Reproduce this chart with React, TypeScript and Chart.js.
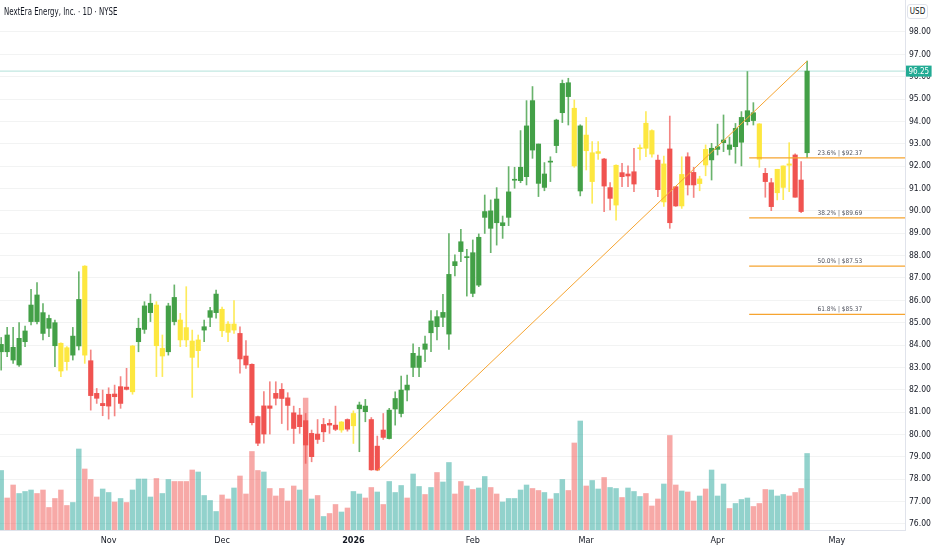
import React, { useEffect, useRef } from "react";
import { Chart, registerables } from "chart.js";

Chart.register(...registerables);

const TITLE = "NextEra Energy, Inc. · 1D · NYSE";
const CURRENCY = "USD";

// Daily OHLC (USD), one entry per trading session, oldest first
const OPEN = [
  83.70, 83.70, 83.33, 83.11, 84.15, 85.05, 85.05, 84.52, 84.75, 83.97,
  84.08, 83.88, 83.55, 83.96, 87.53, 83.30, 81.84, 81.39, 81.80, 81.81,
  82.14, 82.12, 81.91, 84.15, 84.70, 85.45, 85.79, 83.85, 83.70, 85.05,
  85.12, 84.78, 84.18, 84.23, 84.67, 85.24, 85.45, 85.60, 84.94, 84.94,
  84.52, 83.51, 83.14, 80.80, 81.28, 81.28, 81.84, 82.02, 81.64, 80.97,
  80.87, 80.62, 80.05, 80.02, 80.45, 80.50, 80.42, 80.56, 80.67, 80.39,
  81.15, 81.02, 80.67, 79.48, 80.20, 79.82, 81.14, 80.94, 81.99, 83.00,
  83.00, 83.81, 84.55, 84.82, 85.24, 84.49, 87.55, 88.18, 87.91, 86.31,
  86.68, 89.71, 89.22, 89.47, 89.34, 89.71, 91.37, 91.35, 91.53, 92.72,
  91.23, 91.05, 92.18, 92.92, 94.39, 95.11, 94.59, 90.89, 93.39, 92.60,
  92.65, 92.32, 91.04, 92.04, 91.71, 91.65, 91.75, 92.82, 92.80, 93.59,
  92.27, 92.10, 92.77, 91.08, 90.22, 92.42, 91.72, 91.43, 92.05, 92.28,
  92.75, 93.05, 92.75, 92.87, 93.07, 93.99, 94.04, 93.89, 91.68, 91.26,
  90.81, 91.05, 92.04, 92.50, 91.38, 92.60,
];
const HIGH = [
  84.34, 84.79, 84.79, 85.00, 84.85, 86.49, 86.79, 85.86, 85.34, 85.12,
  84.10, 83.93, 84.79, 87.28, 87.55, 83.78, 82.06, 81.99, 82.09, 82.21,
  82.59, 82.96, 83.98, 85.20, 85.94, 86.28, 85.94, 84.45, 85.87, 86.69,
  85.42, 86.61, 84.67, 84.45, 85.12, 85.69, 86.46, 85.70, 85.05, 85.99,
  84.82, 84.20, 83.16, 80.82, 81.92, 82.36, 82.36, 82.28, 81.87, 81.27,
  81.17, 80.94, 80.20, 80.67, 80.72, 80.67, 81.27, 80.58, 80.70, 81.06,
  81.45, 81.57, 80.76, 79.93, 80.94, 81.17, 81.91, 82.61, 82.66, 84.05,
  83.90, 84.40, 85.54, 85.54, 86.27, 88.99, 88.03, 89.17, 88.28, 88.70,
  88.97, 90.71, 90.49, 91.04, 89.77, 91.98, 91.95, 93.59, 94.93, 95.56,
  92.99, 92.16, 92.42, 94.10, 95.85, 95.93, 94.96, 93.85, 94.18, 93.10,
  93.10, 92.35, 91.26, 92.06, 92.13, 92.01, 92.80, 92.95, 94.44, 93.62,
  92.50, 92.45, 94.24, 91.10, 92.42, 92.60, 91.95, 91.55, 92.95, 93.02,
  93.88, 94.29, 93.30, 93.91, 94.44, 96.23, 94.84, 93.90, 91.90, 91.45,
  91.86, 92.01, 93.05, 92.55, 92.20, 96.70,
];
const LOW = [
  82.88, 83.48, 83.18, 83.05, 83.93, 84.90, 84.94, 84.23, 84.37, 83.03,
  82.59, 82.88, 83.33, 83.78, 83.18, 81.09, 81.39, 80.84, 80.69, 80.83,
  81.17, 81.99, 81.80, 83.70, 84.52, 85.05, 82.59, 82.59, 83.55, 84.90,
  83.93, 83.93, 81.66, 83.00, 84.15, 84.82, 85.20, 84.38, 84.15, 84.52,
  82.74, 82.96, 80.43, 79.50, 79.61, 80.02, 81.32, 80.49, 80.20, 79.60,
  80.05, 78.71, 78.78, 79.60, 79.68, 80.05, 80.17, 80.10, 80.15, 79.60,
  79.23, 80.57, 78.40, 78.38, 79.78, 79.80, 80.42, 80.79, 81.50, 82.59,
  82.59, 83.26, 83.70, 84.23, 84.82, 83.81, 87.09, 87.73, 86.19, 86.16,
  86.61, 88.99, 88.13, 88.47, 88.77, 89.34, 91.01, 91.26, 91.16, 92.35,
  90.64, 90.90, 91.31, 92.60, 93.95, 93.84, 91.95, 90.67, 91.83, 90.34,
  92.30, 89.97, 90.04, 89.59, 91.08, 91.08, 90.86, 92.28, 92.42, 92.40,
  90.64, 90.20, 89.22, 90.20, 90.11, 90.71, 90.60, 90.90, 91.57, 91.38,
  92.50, 92.65, 92.50, 92.13, 92.01, 93.84, 93.84, 91.95, 90.61, 90.01,
  90.49, 90.50, 90.86, 90.61, 89.92, 92.38,
];
const CLOSE = [
  84.03, 84.45, 83.90, 84.30, 84.63, 85.79, 86.24, 85.45, 85.19, 85.00,
  82.84, 83.26, 84.40, 86.04, 83.55, 81.74, 81.62, 81.29, 81.27, 81.69,
  81.39, 82.02, 83.96, 84.75, 85.75, 85.87, 83.97, 83.51, 85.75, 86.13,
  84.23, 84.23, 83.45, 83.75, 84.82, 85.54, 86.28, 84.64, 84.57, 84.67,
  83.38, 83.11, 80.53, 79.61, 80.02, 81.17, 81.62, 81.61, 81.30, 80.27,
  80.35, 79.53, 79.01, 79.78, 80.12, 80.42, 80.23, 80.20, 80.24, 80.94,
  81.32, 81.27, 78.42, 78.41, 79.87, 81.09, 81.61, 81.99, 82.21, 83.63,
  83.51, 84.05, 85.08, 85.27, 85.46, 87.16, 87.73, 88.62, 87.93, 88.13,
  88.82, 89.97, 90.00, 90.53, 89.47, 90.85, 91.39, 91.95, 93.80, 94.93,
  92.99, 91.65, 92.22, 94.06, 95.70, 95.73, 92.01, 93.80, 92.69, 91.31,
  92.57, 91.11, 90.56, 90.26, 91.53, 91.56, 91.20, 92.78, 93.92, 92.54,
  90.95, 90.40, 89.47, 90.22, 91.63, 91.16, 91.16, 91.22, 92.75, 92.80,
  92.87, 93.17, 92.95, 93.69, 94.18, 94.48, 94.39, 92.31, 91.31, 90.19,
  91.86, 92.01, 92.10, 90.61, 89.97, 96.25,
];
// Candle colour as painted on the chart: g = green, r = red, y = yellow
const CANDLE_TONE = [
  "g","g","g","g","g","g","g","g","g","g",
  "y","y","g","g","y","r","r","r","r","r",
  "r","r","y","g","g","g","y","y","g","g",
  "y","y","y","y","g","g","g","y","y","y",
  "r","r","r","r","r","r","r","r","r","r",
  "r","r","r","r","r","r","r","y","r","y",
  "g","g","r","r","r","g","g","g","g","g",
  "g","g","g","g","g","g","g","g","g","g",
  "g","g","g","g","g","g","g","g","g","g",
  "g","g","g","g","g","g","y","g","y","y",
  "y","r","r","y","r","r","r","y","y","y",
  "r","y","r","r","y","r","r","y","y","g",
  "g","g","g","g","g","g","g","y","r","r",
  "y","y","y","r","r","g",
];
// Volume, millions of shares
const VOLUME = [
  11.9, 6.4, 9.0, 7.3, 7.7, 8.0, 7.3, 8.0, 4.5, 6.3,
  8.0, 4.9, 5.5, 16.2, 12.2, 10.1, 6.6, 8.2, 7.5, 5.6,
  6.3, 5.5, 8.0, 10.2, 10.2, 6.6, 10.3, 7.3, 10.1, 9.7,
  9.7, 9.7, 12.0, 11.6, 6.9, 5.9, 3.7, 7.0, 6.2, 8.4,
  10.8, 7.2, 15.7, 11.9, 11.6, 8.3, 6.8, 8.3, 5.8, 8.8,
  8.0, 26.4, 6.2, 6.9, 2.7, 3.3, 5.1, 3.6, 4.4, 7.7,
  7.2, 6.4, 8.5, 7.6, 5.1, 9.7, 7.5, 8.9, 6.4, 11.2,
  8.7, 7.1, 8.5, 11.5, 9.6, 13.5, 7.2, 9.7, 8.8, 8.1,
  8.4, 10.7, 8.5, 7.2, 5.6, 6.3, 6.3, 8.0, 9.0, 8.3,
  7.9, 7.5, 6.2, 7.3, 10.1, 7.9, 17.4, 21.8, 8.8, 9.9,
  8.2, 10.5, 8.5, 8.3, 6.5, 8.4, 7.7, 6.7, 7.3, 4.8,
  6.2, 9.2, 18.9, 9.0, 7.8, 7.6, 5.8, 6.8, 8.2, 12.0,
  6.8, 9.2, 4.3, 5.3, 6.1, 6.4, 4.7, 5.3, 8.1, 8.0,
  6.8, 7.1, 6.8, 7.5, 8.3, 15.3,
];
// Volume bar colour: u = teal, d = pink
const VOLUME_DIR = [
  "u","d","d","u","u","u","d","d","d","d",
  "d","d","u","u","d","d","d","u","u","d",
  "u","d","u","u","u","u","d","u","u","d",
  "d","d","d","u","u","u","u","d","d","u",
  "d","d","d","d","u","d","d","d","d","d",
  "u","d","u","d","u","d","d","u","d","u",
  "u","d","d","u","d","u","u","u","d","u",
  "u","d","u","d","u","u","d","d","u","d",
  "u","u","d","d","u","u","u","u","u","d",
  "d","u","d","u","u","d","d","u","d","u",
  "u","d","u","u","d","u","u","u","d","d",
  "d","u","d","d","u","d","d","u","d","u",
  "u","u","d","u","u","u","d","d","d","u",
  "u","u","d","d","d","u",
];

const MONTH_TICK_INDEX = [18, 37, 59, 79, 98, 120, 140];
const MONTH_TICK_LABELS = ["Nov", "Dec", "2026", "Feb", "Mar", "Apr", "May"];
const PRICE_TICKS = [76, 77, 78, 79, 80, 81, 82, 83, 84, 85, 86, 87, 88, 89, 90, 91, 92, 93, 94, 95, 96, 97, 98];
const LAST_PRICE = 96.25;

// Trend line drawn from the January low to the April high
const TREND_INDEX = [63, 135];
const TREND_PRICE = [78.38, 96.70];
// Fibonacci retracement levels
const FIB_PCT = ["23.6%", "38.2%", "50.0%", "61.8%"];
const FIB_PRICE = [92.37, 89.69, 87.53, 85.37];
const FIB_START_INDEX = 125.3;
const FIB_LABEL_INDEX = 140.5;

const X_MIN = -0.2;
const X_MAX = 151.4;
const Y_MIN = 75.73;
const Y_MAX = 99.43;
const VOL_AXIS_MAX = 106;

const FONT = "'Liberation Sans Narrow', 'DejaVu Sans Condensed', 'Roboto Condensed', Roboto, 'Liberation Sans', sans-serif";
const TEXT = "#131722";
const TONE_COLOR: Record<string, string> = { g: "#43a047", r: "#f05350", y: "#fde73f" };
const WICK_COLOR: Record<string, string> = { g: "rgba(67,160,71,0.8)", r: "rgba(240,83,80,0.7)", y: "rgba(253,231,63,0.85)" };
const VOL_COLOR: Record<string, string> = { u: "rgba(38,166,154,0.5)", d: "rgba(239,83,80,0.5)" };
const ORANGE = "#f6a430";

const overlayText = {
  id: "overlayText",
  afterDatasetsDraw(chart: any) {
    const { ctx, scales } = chart;
    const x = scales.x;
    const y = scales.y;
    ctx.save();
    ctx.font = `6.5px ${FONT}`;
    ctx.fillStyle = "#50535e";
    ctx.textAlign = "center";
    ctx.textBaseline = "bottom";
    FIB_PRICE.forEach((p, k) => {
      ctx.fillText(`${FIB_PCT[k]} | $${p.toFixed(2)}`, x.getPixelForValue(FIB_LABEL_INDEX), y.getPixelForValue(p) - 1.5);
    });
    ctx.restore();
  },
  afterDraw(chart: any) {
    const { ctx, scales } = chart;
    const y = scales.y;
    const py = y.getPixelForValue(LAST_PRICE);
    const label = LAST_PRICE.toFixed(2);
    ctx.save();
    ctx.font = `8px ${FONT}`;
    const w = ctx.measureText(label).width + 5;
    ctx.fillStyle = "#22ab94";
    ctx.fillRect(y.left + 1, py - 5.5, w, 11);
    ctx.fillStyle = "#ffffff";
    ctx.textAlign = "left";
    ctx.textBaseline = "middle";
    ctx.fillText(label, y.left + 3.5, py + 0.5);
    ctx.restore();
  },
};

export default function App() {
  const ref = useRef<HTMLCanvasElement>(null);

  useEffect(() => {
    const idx = OPEN.map((_, i) => i);
    const toneColors = idx.map((i) => TONE_COLOR[CANDLE_TONE[i]]);
    const wickColors = idx.map((i) => WICK_COLOR[CANDLE_TONE[i]]);
    Chart.defaults.font.family = FONT;

    const chart = new Chart(ref.current as HTMLCanvasElement, {
      type: "bar",
      data: {
        datasets: [
          {
            type: "line",
            data: [
              { x: X_MIN, y: LAST_PRICE },
              { x: X_MAX, y: LAST_PRICE },
            ],
            borderColor: "rgba(34,171,148,0.35)",
            borderWidth: 1,
            pointRadius: 0,
            order: 20,
          } as any,
          {
            type: "bar",
            data: idx.map((i) => ({ x: i, y: VOLUME[i] })),
            backgroundColor: idx.map((i) => VOL_COLOR[VOLUME_DIR[i]]),
            barThickness: 4.8,
            grouped: false,
            yAxisID: "yv",
            order: 10,
          } as any,
          {
            type: "bar",
            data: idx.map((i) => ({ x: i, y: [LOW[i], HIGH[i]] })),
            backgroundColor: wickColors,
            barThickness: 1,
            grouped: false,
            yAxisID: "y",
            order: 5,
          } as any,
          {
            type: "bar",
            data: idx.map((i) => ({ x: i, y: [Math.min(OPEN[i], CLOSE[i]), Math.max(OPEN[i], CLOSE[i])] })),
            backgroundColor: toneColors,
            barThickness: 4.5,
            minBarLength: 1,
            grouped: false,
            yAxisID: "y",
            order: 4,
          } as any,
          ...FIB_PRICE.map(
            (p) =>
              ({
                type: "line",
                data: [
                  { x: FIB_START_INDEX, y: p },
                  { x: X_MAX, y: p },
                ],
                borderColor: ORANGE,
                borderWidth: 1.3,
                pointRadius: 0,
                yAxisID: "y",
                order: 2,
              }) as any
          ),
          {
            type: "line",
            data: TREND_INDEX.map((x, k) => ({ x, y: TREND_PRICE[k] })),
            borderColor: ORANGE,
            borderWidth: 1,
            pointRadius: 0,
            yAxisID: "y",
            order: 1,
          } as any,
        ],
      },
      options: {
        responsive: false,
        animation: false,
        events: [],
        layout: { padding: 0 },
        plugins: {
          legend: { display: false },
          tooltip: { enabled: false },
          title: { display: false },
        },
        scales: {
          x: {
            type: "linear",
            min: X_MIN,
            max: X_MAX,
            offset: false,
            afterBuildTicks: (s: any) => {
              s.ticks = MONTH_TICK_INDEX.map((v) => ({ value: v }));
            },
            afterFit: (s: any) => {
              s.height = 20;
              s.paddingLeft = 0;
              s.paddingRight = 0;
            },
            ticks: {
              autoSkip: false,
              maxRotation: 0,
              padding: 5,
              color: TEXT,
              callback: (v: any) => {
                const k = MONTH_TICK_INDEX.indexOf(Number(v));
                return k >= 0 ? MONTH_TICK_LABELS[k] : "";
              },
              font: (ctx: any) => ({
                size: 9,
                family: FONT,
                weight: ctx.tick && ctx.tick.value === MONTH_TICK_INDEX[2] ? "bold" : "normal",
              }),
            },
            grid: { display: false, drawTicks: false },
            border: { display: true, color: "#e0e3eb" },
          } as any,
          y: {
            type: "linear",
            position: "right",
            min: Y_MIN,
            max: Y_MAX,
            afterBuildTicks: (s: any) => {
              s.ticks = PRICE_TICKS.map((v) => ({ value: v }));
            },
            afterFit: (s: any) => {
              s.width = 27;
              s.paddingTop = 0;
              s.paddingBottom = 0;
            },
            ticks: {
              padding: 4,
              color: TEXT,
              font: { size: 8.5, family: FONT },
              callback: (v: any) => Number(v).toFixed(2),
            },
            grid: { color: "rgba(42,46,57,0.06)", drawTicks: false },
            border: { display: true, color: "#e0e3eb" },
          } as any,
          yv: {
            type: "linear",
            display: false,
            min: 0,
            max: VOL_AXIS_MAX,
          } as any,
        },
      },
      plugins: [overlayText],
    });
    return () => chart.destroy();
  }, []);

  return (
    <div
      style={{
        position: "fixed",
        left: 0,
        top: 0,
        width: 932,
        height: 550,
        background: "#ffffff",
        overflow: "hidden",
      }}
    >
      <canvas ref={ref} width={932} height={550} style={{ display: "block", width: 932, height: 550 }} />
      <div
        style={{
          position: "absolute",
          left: 4,
          top: 6,
          fontFamily: FONT,
          fontSize: 10,
          lineHeight: "12px",
          color: TEXT,
          whiteSpace: "nowrap",
          transform: "scaleX(0.78)",
          transformOrigin: "left center",
        }}
      >
        {TITLE}
      </div>
      <div
        style={{
          position: "absolute",
          left: 907,
          top: 4,
          width: 21,
          height: 15,
          boxSizing: "border-box",
          border: "1px solid #e0e3eb",
          borderRadius: 3,
          fontFamily: FONT,
          fontSize: 8,
          lineHeight: "13px",
          textAlign: "center",
          color: TEXT,
          background: "#ffffff",
        }}
      >
        {CURRENCY}
      </div>
    </div>
  );
}
